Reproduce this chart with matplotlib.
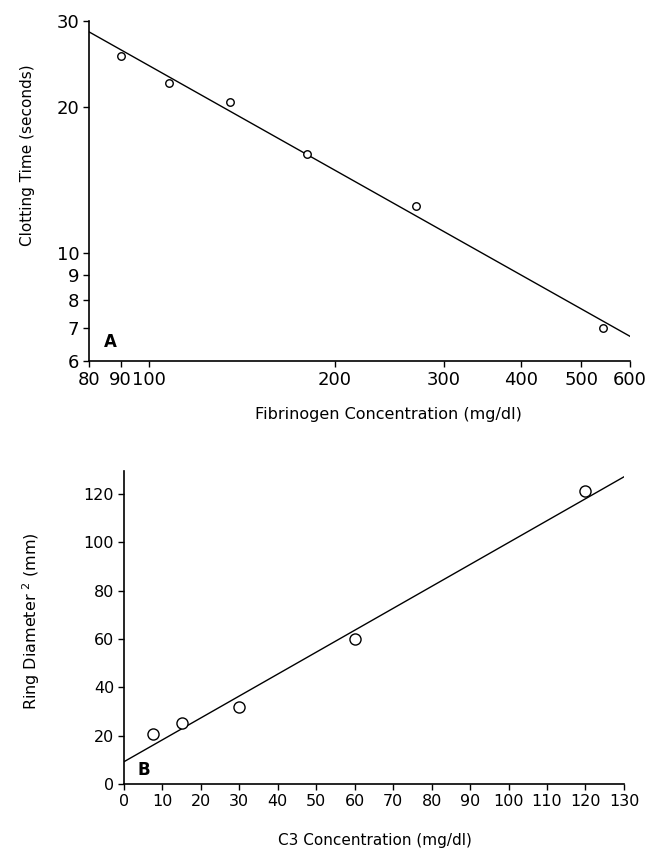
import numpy as np
import matplotlib.pyplot as plt
from matplotlib.ticker import FixedLocator, FixedFormatter, NullLocator

# Panel A: clotting time vs fibrinogen concentration (log-log)
fib_conc = [90.1, 107.8, 135.4, 180.4, 270.7, 541.8]
clot_time = [25.4, 22.4, 20.4, 16.0, 12.5, 7.0]
fit_a_x = [80, 600]
fit_a_y = [28.5, 6.74]
a_xticks = [80, 90, 100, 200, 300, 400, 500, 600]
a_yticks = [6, 7, 8, 9, 10, 20, 30]

# Panel B: ring diameter squared vs C3 concentration
c3_conc = [7.5, 15, 30, 60, 120]
ring_d2 = [20.6, 25.1, 31.7, 60.0, 121.2]
fit_b_x = [0, 130]
fit_b_y = [9.2, 127.1]
b_xticks = list(range(0, 131, 10))
b_yticks = list(range(0, 121, 20))

plt.rcParams['font.family'] = 'DejaVu Sans'

fig = plt.figure(figsize=(6.49, 8.49), dpi=100)

# ---- panel A ----
ax1 = fig.add_axes([0.137, 0.5748, 0.834, 0.4005])
ax1.plot(fit_a_x, fit_a_y, color='black', lw=1.0)
ax1.plot(fib_conc, clot_time, 'o', mfc='white', mec='black', mew=1.0, ms=5.4)
ax1.set_xscale('log')
ax1.set_yscale('log')
ax1.set_xlim(80, 600)
ax1.set_ylim(6, 30)
ax1.xaxis.set_major_locator(FixedLocator(a_xticks))
ax1.xaxis.set_major_formatter(FixedFormatter([str(t) for t in a_xticks]))
ax1.xaxis.set_minor_locator(NullLocator())
ax1.yaxis.set_major_locator(FixedLocator(a_yticks))
ax1.yaxis.set_major_formatter(FixedFormatter([str(t) for t in a_yticks]))
ax1.yaxis.set_minor_locator(NullLocator())
ax1.tick_params(labelsize=13, length=4, width=1, pad=3)
ax1.set_xlabel('Fibrinogen Concentration (mg/dl)', fontsize=11.5)
ax1.xaxis.set_label_coords(0.553, -0.136)
ax1.set_ylabel('Clotting Time (seconds)', fontsize=11)
ax1.yaxis.set_label_coords(-0.1, 0.606)
ax1.text(0.039, 0.056, 'A', transform=ax1.transAxes, fontsize=12,
         fontweight='bold', ha='center', va='center')

# ---- panel B ----
ax2 = fig.add_axes([0.191, 0.0766, 0.7704, 0.3686])
ax2.plot(fit_b_x, fit_b_y, color='black', lw=1.0)
ax2.plot(c3_conc, ring_d2, 'o', mfc='white', mec='black', mew=1.0, ms=8)
ax2.set_xlim(0, 130)
ax2.set_ylim(0, 129.5)
ax2.set_xticks(b_xticks)
ax2.set_yticks(b_yticks)
ax2.tick_params(labelsize=11.5, length=4, width=1, pad=3)
ax2.set_xlabel('C3 Concentration (mg/dl)', fontsize=11)
ax2.xaxis.set_label_coords(0.502, -0.157)
ax2.set_ylabel('Ring Diameter $^{2}$ (mm)', fontsize=11.5)
ax2.yaxis.set_label_coords(-0.164, 0.52)
ax2.text(0.04, 0.045, 'B', transform=ax2.transAxes, fontsize=12,
         fontweight='bold', ha='center', va='center')

for ax in (ax1, ax2):
    ax.spines['top'].set_visible(False)
    ax.spines['right'].set_visible(False)
    ax.spines['left'].set_linewidth(1.2)
    ax.spines['bottom'].set_linewidth(1.2)

plt.savefig('out.png', dpi=100)
